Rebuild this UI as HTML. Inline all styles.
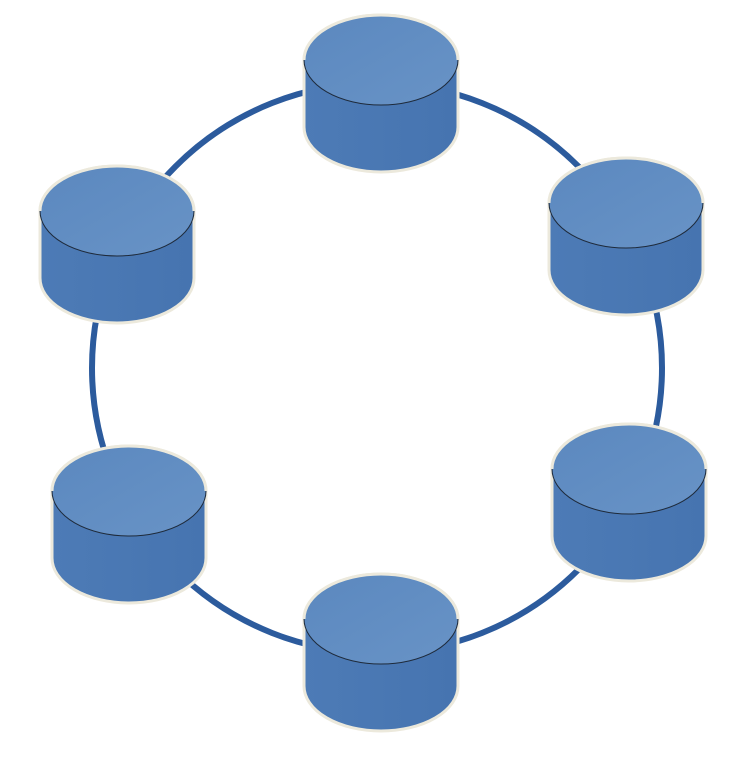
<!DOCTYPE html>
<html><head><style>html,body{margin:0;padding:0;background:#fff}svg{display:block}</style></head>
<body>
<svg width="755" height="760" viewBox="0 0 755 760" xmlns="http://www.w3.org/2000/svg">
<defs>
<linearGradient id="side" x1="0" y1="0" x2="1" y2="0">
<stop offset="0" stop-color="#4d7bb6"/><stop offset="1" stop-color="#4674b0"/>
</linearGradient>
<linearGradient id="top" x1="0" y1="0" x2="1" y2="1">
<stop offset="0" stop-color="#5b88bf"/><stop offset="1" stop-color="#6893c6"/>
</linearGradient>
<g id="cyl">
<path d="M0,45 L0,112 A77,45 0 0 0 154,112 L154,45 A77,45 0 0 0 0,45 Z" fill="url(#side)" stroke="#ece9dc" stroke-width="3"/>
<ellipse cx="77" cy="45" rx="77" ry="45" fill="url(#top)"/>
<path d="M0,45 A77,45 0 0 0 154,45" fill="none" stroke="#1e2a3a" stroke-width="1"/>
<path d="M0,45 A77,45 0 0 1 154,45" fill="none" stroke="#ece9dc" stroke-width="3"/>
</g>
</defs>
<circle cx="377" cy="368" r="285" fill="none" stroke="#2c5b9d" stroke-width="6"/>
<use href="#cyl" x="304" y="15"/>
<use href="#cyl" x="549" y="158"/>
<use href="#cyl" x="40" y="166"/>
<use href="#cyl" x="52" y="446"/>
<use href="#cyl" x="552" y="424"/>
<use href="#cyl" x="304" y="574"/>
</svg>
</body></html>
